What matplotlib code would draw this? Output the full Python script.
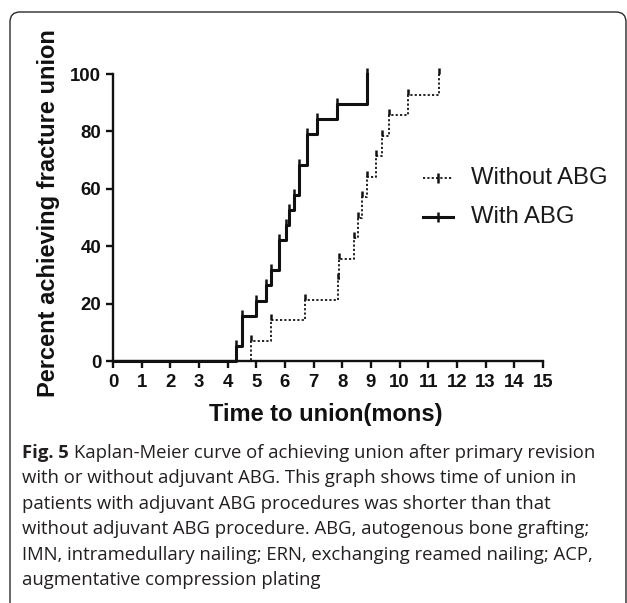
import matplotlib
matplotlib.use("Agg")
import matplotlib.pyplot as plt
import numpy as np
from matplotlib.lines import Line2D
from matplotlib.path import Path
from matplotlib.patches import FancyBboxPatch
from matplotlib.transforms import IdentityTransform

# Event times (months), one entry per patient reaching union
with_abg_times = [4.30, 4.50, 4.50, 5.00, 5.35, 5.50, 5.80, 5.80, 6.03, 6.15,
                  6.30, 6.50, 6.50, 6.75, 6.75, 7.10, 7.82, 8.85, 8.85]
without_abg_times = [4.83, 5.52, 6.69, 7.85, 7.90, 8.40, 8.53, 8.67, 8.85,
                     9.18, 9.40, 9.62, 10.28, 11.38]
series_labels = ["Without ABG", "With ABG"]
x_ticks = list(range(0, 16))
y_ticks = [0, 20, 40, 60, 80, 100]
caption_lines = [
    "Kaplan-Meier curve of achieving union after primary revision",
    "with or without adjuvant ABG. This graph shows time of union in",
    "patients with adjuvant ABG procedures was shorter than that",
    "without adjuvant ABG procedure. ABG, autogenous bone grafting;",
    "IMN, intramedullary nailing; ERN, exchanging reamed nailing; ACP,",
    "augmentative compression plating",
]

W, H = 627, 603


def fx(x):
    return x / W


def fy(y):
    return 1 - y / H


def km_curve(times):
    # cumulative percent reaching union after each event
    n = len(times)
    cum = 100.0 * np.arange(1, n + 1) / n
    xs = np.concatenate([[0], times])
    ys = np.concatenate([[0], cum])
    return xs, ys, cum


tick_up = Path([[0, 0], [0, 1]])  # censor-style tick pointing upward

fig = plt.figure(figsize=(W / 100, H / 100), dpi=100)
ax = fig.add_axes([fx(113), fy(361), 430 / W, 287 / H])

xs, ys, cum = km_curve(without_abg_times)
ax.step(xs, ys, where="post", color="#111111", lw=1.3, ls=(0, (1.2, 1.2)),
        clip_on=False, zorder=3)
ax.plot(without_abg_times, cum, ls="none", marker=tick_up, ms=9, mew=1.8,
        color="#111111", clip_on=False, zorder=4)

xs, ys, cum = km_curve(with_abg_times)
ax.step(xs, ys, where="post", color="#111111", lw=2.2, clip_on=False, zorder=3)
ax.plot(with_abg_times, cum, ls="none", marker=tick_up, ms=9, mew=1.8,
        color="#111111", clip_on=False, zorder=4)

ax.set_xlim(0, 15)
ax.set_ylim(0, 100)
ax.set_xticks(x_ticks)
ax.set_yticks(y_ticks)
for s in ["top", "right"]:
    ax.spines[s].set_visible(False)
for s in ["left", "bottom"]:
    ax.spines[s].set_linewidth(1.7)
    ax.spines[s].set_color("#111111")
ax.tick_params(axis="both", direction="out", length=5, width=1.7, color="#111111")
ax.tick_params(axis="x", pad=4.5)
ax.tick_params(axis="y", pad=3.5)
for lab in ax.get_xticklabels() + ax.get_yticklabels():
    lab.set_fontfamily("Liberation Sans")
    lab.set_fontweight("bold")
    lab.set_fontsize(13.4)
    lab.set_color("#111111")

# axis titles
fig.text(fx(326), fy(414), "Time to union(mons)", family="Liberation Sans",
         weight="bold", size=17, ha="center", va="center", color="#111111")
fig.text(fx(49), fy(213), "Percent achieving fracture union", family="Liberation Sans",
         weight="bold", size=17, ha="center", va="center", rotation=90,
         color="#111111")

# legend
leg_y = [178, 217]
styles = [dict(lw=1.3, ls=(0, (1.2, 1.2))), dict(lw=2.2, ls="-")]
for lbl, yy, st in zip(series_labels, leg_y, styles):
    fig.add_artist(Line2D([fx(423), fx(453)], [fy(yy), fy(yy)], color="#111111", **st))
    fig.add_artist(Line2D([fx(438)], [fy(yy)], marker="|", ms=7, mew=1.8,
                          color="#111111", ls="none"))
    fig.text(fx(471), fy(yy), lbl, family="Liberation Sans", size=17.2,
             ha="left", va="center", color="#1a1a1a")

# caption
cap_color = "#231f20"
cap_size = 13.3
fig.canvas.draw()
r = fig.canvas.get_renderer()
bold = fig.text(fx(22), fy(453), "Fig. 5", family="Open Sans", weight="bold",
                size=cap_size, ha="left", va="center", color=cap_color)
bb = bold.get_window_extent(renderer=r)
for i, line in enumerate(caption_lines):
    y = 453 + i * 25.4
    if i == 0:
        fig.text((bb.x1 + 5) / W, fy(y), line, family="Open Sans", size=cap_size,
                 ha="left", va="center", color=cap_color)
    else:
        fig.text(fx(22), fy(y), line, family="Open Sans", size=cap_size,
                 ha="left", va="center", color=cap_color)

# rounded frame around figure + caption
frame = FancyBboxPatch((10, -30), 616, H - 12 + 30,
                       boxstyle="round,pad=0,rounding_size=10",
                       transform=IdentityTransform(), fill=False,
                       ec="#2a2a2a", lw=1.0)
fig.patches.append(frame)

fig.savefig("out.png", dpi=100)
